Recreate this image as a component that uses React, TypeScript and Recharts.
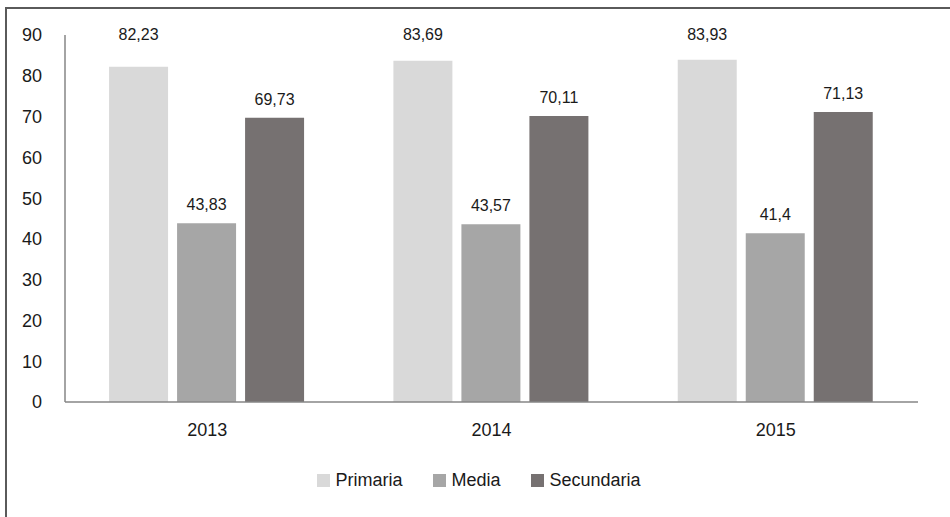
import { BarChart, Bar, XAxis, YAxis, Legend, LabelList } from 'recharts';

const years = ['2013', '2014', '2015'];
const primaria = [82.23, 83.69, 83.93];
const media = [43.83, 43.57, 41.4];
const secundaria = [69.73, 70.11, 71.13];
const yTicks = [0, 10, 20, 30, 40, 50, 60, 70, 80, 90];

const series = [
  { key: 'primaria', name: 'Primaria', color: '#d9d9d9', pinTop: true },
  { key: 'media', name: 'Media', color: '#a6a6a6', pinTop: false },
  { key: 'secundaria', name: 'Secundaria', color: '#767171', pinTop: false },
];

const rows = years.map((year, i) => ({
  year,
  primaria: primaria[i],
  media: media[i],
  secundaria: secundaria[i],
}));

const FONT = "'Liberation Sans', Arial, sans-serif";
const AXIS = '#868686';
const PLOT_TOP = 35;

const fmt = (v: number) => String(v).replace('.', ',');

// excel pushed the labels of the tall bars up against the top of the plot
const makeLabel = (pinTop: boolean) => (props: any) => {
  const vb = props.viewBox ?? props;
  const x = Number(vb.x ?? props.x);
  const y = Number(vb.y ?? props.y);
  const width = Number(vb.width ?? props.width);
  const baseline = pinTop ? PLOT_TOP + 5 : y - 13;
  return (
    <text x={x + width / 2} y={baseline} textAnchor="middle" fontSize={16} fill="#1a1a1a" fontFamily={FONT}>
      {fmt(props.value)}
    </text>
  );
};

const renderLegend = () => (
  <div style={{ display: 'flex', justifyContent: 'center', gap: 31, fontFamily: FONT, fontSize: 18, color: '#1a1a1a' }}>
    {series.map((s) => (
      <div key={s.key} style={{ display: 'flex', alignItems: 'center' }}>
        <span style={{ width: 13, height: 13, background: s.color, marginRight: 5, display: 'inline-block' }} />
        <span>{s.name}</span>
      </div>
    ))}
  </div>
);

export default function App() {
  return (
    <div style={{ position: 'absolute', left: 0, top: 0, width: 950, height: 517, overflow: 'hidden', background: '#fff' }}>
      <div
        style={{
          position: 'absolute',
          left: 5,
          top: 7,
          width: 980,
          height: 540,
          borderLeft: '2px solid #5a5a5a',
          borderTop: '2px solid #5a5a5a',
        }}
      />
      <BarChart
        width={950}
        height={517}
        data={rows}
        margin={{ top: PLOT_TOP, right: 32, bottom: 0, left: 5 }}
        barCategoryGap="15.5%"
        barGap={9}
        style={{ position: 'absolute', left: 0, top: 0 }}
      >
        <XAxis
          dataKey="year"
          height={115}
          tickLine={false}
          tickSize={0}
          tickMargin={21}
          axisLine={{ stroke: AXIS, strokeWidth: 1.5 }}
          tick={{ fill: '#1a1a1a', fontSize: 18, fontFamily: FONT }}
        />
        <YAxis
          width={60}
          domain={[0, 90]}
          ticks={yTicks}
          interval={0}
          tickLine={false}
          tickSize={0}
          tickMargin={23}
          axisLine={{ stroke: AXIS, strokeWidth: 1.5 }}
          tick={{ fill: '#1a1a1a', fontSize: 18, fontFamily: FONT }}
        />
        <Legend
          verticalAlign="middle"
          layout="horizontal"
          content={renderLegend}
          wrapperStyle={{ top: 470, left: 4, width: 950 }}
        />
        {series.map((s) => (
          <Bar key={s.key} dataKey={s.key} name={s.name} fill={s.color} isAnimationActive={false}>
            <LabelList dataKey={s.key} content={makeLabel(s.pinTop)} />
          </Bar>
        ))}
      </BarChart>
    </div>
  );
}
